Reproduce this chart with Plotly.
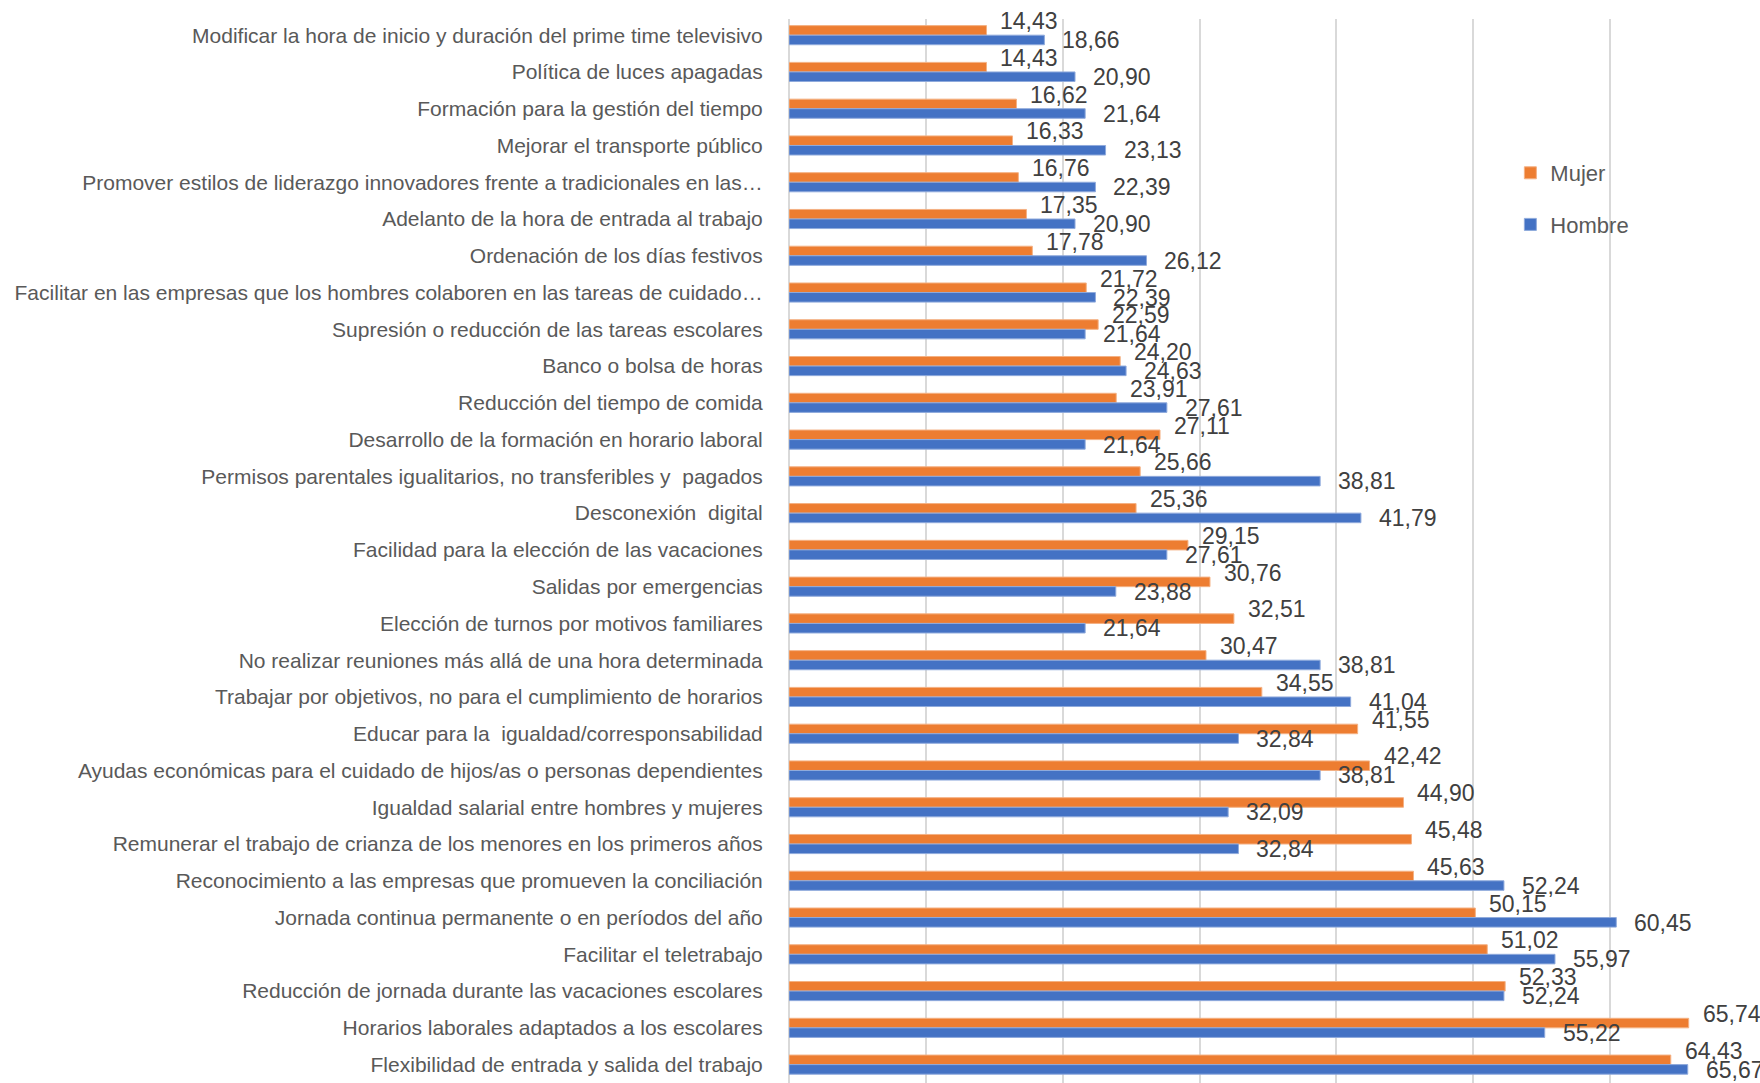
import plotly.graph_objects as go

# Medidas de conciliación, ordenadas de arriba abajo
categorias = [
    "Modificar la hora de inicio y duración del prime time televisivo",
    "Política de luces apagadas",
    "Formación para la gestión del tiempo",
    "Mejorar el transporte público",
    "Promover estilos de liderazgo innovadores frente a tradicionales en las…",
    "Adelanto de la hora de entrada al trabajo",
    "Ordenación de los días festivos",
    "Facilitar en las empresas que los hombres colaboren en las tareas de cuidado…",
    "Supresión o reducción de las tareas escolares",
    "Banco o bolsa de horas",
    "Reducción del tiempo de comida",
    "Desarrollo de la formación en horario laboral",
    "Permisos parentales igualitarios, no transferibles y  pagados",
    "Desconexión  digital",
    "Facilidad para la elección de las vacaciones",
    "Salidas por emergencias",
    "Elección de turnos por motivos familiares",
    "No realizar reuniones más allá de una hora determinada",
    "Trabajar por objetivos, no para el cumplimiento de horarios",
    "Educar para la  igualdad/corresponsabilidad",
    "Ayudas económicas para el cuidado de hijos/as o personas dependientes",
    "Igualdad salarial entre hombres y mujeres",
    "Remunerar el trabajo de crianza de los menores en los primeros años",
    "Reconocimiento a las empresas que promueven la conciliación",
    "Jornada continua permanente o en períodos del año",
    "Facilitar el teletrabajo",
    "Reducción de jornada durante las vacaciones escolares",
    "Horarios laborales adaptados a los escolares",
    "Flexibilidad de entrada y salida del trabajo",
]

mujer = [14.43, 14.43, 16.62, 16.33, 16.76, 17.35, 17.78, 21.72, 22.59, 24.20,
         23.91, 27.11, 25.66, 25.36, 29.15, 30.76, 32.51, 30.47, 34.55, 41.55,
         42.42, 44.90, 45.48, 45.63, 50.15, 51.02, 52.33, 65.74, 64.43]

hombre = [18.66, 20.90, 21.64, 23.13, 22.39, 20.90, 26.12, 22.39, 21.64, 24.63,
          27.61, 21.64, 38.81, 41.79, 27.61, 23.88, 21.64, 38.81, 41.04, 32.84,
          38.81, 32.09, 32.84, 52.24, 60.45, 55.97, 52.24, 55.22, 65.67]

COLOR_MUJER = "#ED7D31"
COLOR_HOMBRE = "#4472C4"
FONT = "Arial, Liberation Sans, sans-serif"


def fmt(v):
    return f"{v:.2f}".replace(".", ",")


fig = go.Figure()
fig.add_trace(go.Bar(
    name="Mujer", y=categorias, x=mujer, orientation="h",
    marker=dict(color=COLOR_MUJER, line=dict(color="#F4B183", width=1)),
    legendgroup="m",
))
fig.add_trace(go.Bar(
    name="Hombre", y=categorias, x=hombre, orientation="h",
    marker=dict(color=COLOR_HOMBRE, line=dict(color="#8FAADC", width=1)),
    legendgroup="h",
))

# Etiquetas de valor a la derecha de cada barra
annotations = []
for cat, vm, vh in zip(categorias, mujer, hombre):
    annotations.append(dict(
        x=vm, y=cat, xref="x", yref="y", text=fmt(vm), showarrow=False,
        xanchor="left", yanchor="middle", xshift=12, yshift=14,
        font=dict(family=FONT, size=23, color="#404040"),
    ))
    annotations.append(dict(
        x=vh, y=cat, xref="x", yref="y", text=fmt(vh), showarrow=False,
        xanchor="left", yanchor="middle", xshift=16, yshift=-5,
        font=dict(family=FONT, size=23, color="#404040"),
    ))

fig.update_layout(
    width=1760, height=1083,
    margin=dict(l=789, r=13, t=19, b=0),
    paper_bgcolor="white", plot_bgcolor="white",
    barmode="group", bargap=0.48, bargroupgap=0,
    font=dict(family=FONT, color="#595959"),
    annotations=annotations,
    showlegend=True,
    legend=dict(
        x=0.753, y=0.875, xanchor="left", yanchor="top",
        font=dict(family=FONT, size=22, color="#595959"),
        bgcolor="rgba(0,0,0,0)", traceorder="grouped", tracegroupgap=20,
        itemwidth=30,
    ),
)

fig.update_xaxes(
    range=[0, 70], dtick=10, showticklabels=False,
    showgrid=True, gridcolor="#D9D9D9", gridwidth=2,
    zeroline=True, zerolinecolor="#D9D9D9", zerolinewidth=2,
    showline=False, ticks="",
)
fig.update_yaxes(
    range=[28.5, -0.44], type="category",
    tickfont=dict(family=FONT, size=21, color="#595959"),
    ticks="outside", ticklen=21, tickcolor="rgba(0,0,0,0)",
    showgrid=False, showline=False, zeroline=False,
)

fig.write_html("out.html")
